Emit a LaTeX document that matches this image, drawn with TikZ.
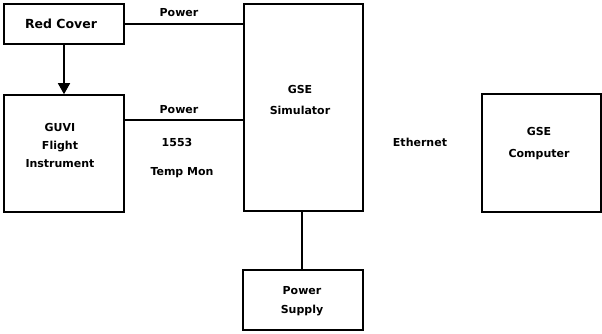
\documentclass[tikz,border=0pt]{standalone}
\usepackage{fontspec}
\setmainfont{DejaVu Sans}
\usetikzlibrary{arrows.meta}
\begin{document}
\begin{tikzpicture}[x=1pt,y=-1pt,
  box/.style={draw=black, line width=1.6pt, rectangle, inner sep=0pt},
  txt/.style={align=center, inner sep=0pt, font=\bfseries\fontsize{11}{#1}\selectfont},
  txt/.default=13,
  lbl/.style={font=\bfseries\fontsize{11}{13}\selectfont, inner sep=0pt},
  wire/.style={draw=black, line width=1.6pt}]
\useasboundingbox (0,0) rectangle (602,333);
\node[box, minimum width=120pt, minimum height=40pt] (cover) at (64,24) {};
\node[box, minimum width=120pt, minimum height=117pt] (guvi) at (64,153.5) {};
\node[box, minimum width=119pt, minimum height=207pt] (sim) at (303.5,107.5) {};
\node[box, minimum width=120pt, minimum height=60pt] (ps) at (303,300) {};
\node[box, minimum width=119pt, minimum height=118pt] (comp) at (541.5,153) {};
\node[txt, font=\bfseries\fontsize{12.5}{13}\selectfont] (covert) at (61,24) {Red Cover};
\node[txt=18] (guvit) at (60,145) {GUVI\\Flight\\Instrument};
\node[txt=21] (simt) at (300,99.5) {GSE\\Simulator};
\node[txt=19] (pst) at (302,301.5) {Power\\Supply};
\node[txt=22] (compt) at (539,144) {GSE\\Computer};
\draw[wire] (cover.east) -- (cover.east -| sim.west);
\draw[wire] (guvi.north east) ++(0,26) coordinate (g1) -- (g1 -| sim.west);
\draw[wire, -{Triangle[length=11pt,width=12pt]}] (cover.south) -- (guvi.north);
\draw[wire] (ps.north) ++(-1,0) coordinate (p1) -- (p1 |- sim.south);
\node[lbl] (l1) at (179,13) {Power};
\node[lbl] (l2) at (179,110) {Power};
\node[lbl] (l3) at (177,142) {1553};
\node[lbl] (l4) at (182,173) {Temp Mon};
\node[lbl] (l5) at (420,142) {Ethernet};
\end{tikzpicture}
\end{document}
